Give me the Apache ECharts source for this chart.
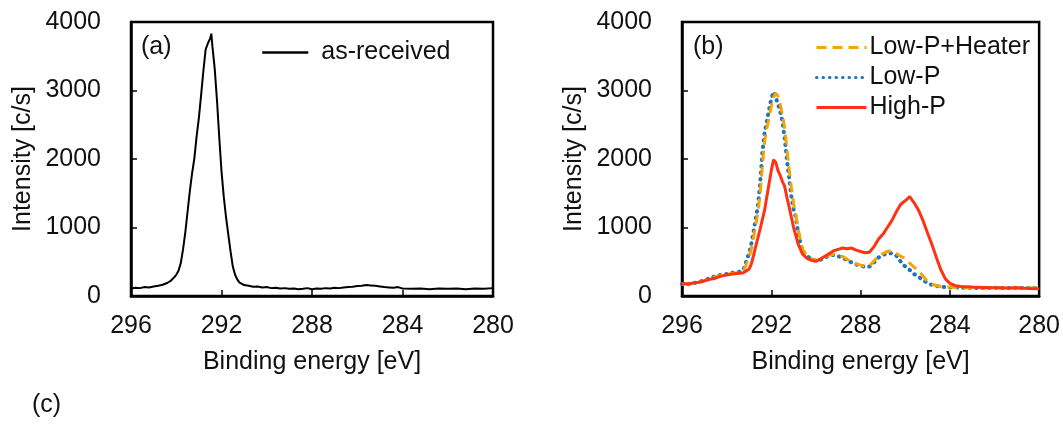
<!DOCTYPE html>
<html>
<head>
<meta charset="utf-8">
<script src="https://cdn.jsdelivr.net/npm/echarts@6/dist/echarts.min.js"></script>
<style>
html,body{margin:0;padding:0;background:#fff;}
#chart{width:1063px;height:424px;}
</style>
</head>
<body>
<div id="chart"></div>
<script>
// Panel (a): as-received
const energyA = [296.0,295.8,295.6,295.4,295.2,295.0,294.8,294.6,294.4,294.25,294.1,294.0,293.9,293.8,293.7,293.6,293.5,293.4,293.3,293.2,293.1,293.0,292.9,292.8,292.7,292.6,292.55,292.5,292.45,292.4,292.3,292.2,292.1,292.0,291.9,291.8,291.7,291.6,291.5,291.4,291.3,291.2,291.0,290.8,290.6,290.4,290.2,290.0,289.8,289.6,289.4,289.2,289.0,288.8,288.6,288.4,288.2,288.0,287.8,287.6,287.4,287.2,287.0,286.8,286.6,286.4,286.2,286.0,285.8,285.6,285.4,285.2,285.0,284.8,284.6,284.4,284.2,284.0,283.6,283.2,282.8,282.4,282.0,281.6,281.2,280.8,280.4,280.0];
const asReceived = [110,120,115,130,125,140,150,165,190,220,270,310,370,480,680,930,1230,1530,1790,2010,2330,2600,2940,3290,3600,3690,3710,3760,3830,3640,3320,2860,2320,1820,1450,1150,900,650,430,310,240,195,160,150,135,140,125,130,115,120,110,115,105,110,100,105,115,100,110,105,115,110,120,115,125,130,135,145,150,160,155,150,140,130,125,120,130,110,105,110,100,110,105,110,100,110,105,115];

// Panel (b)
const energyB = [296.0,295.75,295.5,295.25,295.0,294.75,294.5,294.25,294.0,293.75,293.5,293.25,293.0,292.9,292.8,292.7,292.6,292.5,292.4,292.3,292.2,292.1,292.0,291.9,291.8,291.7,291.6,291.5,291.4,291.3,291.2,291.1,291.0,290.9,290.8,290.6,290.4,290.2,290.0,289.8,289.6,289.4,289.2,289.0,288.8,288.6,288.4,288.2,288.0,287.8,287.6,287.4,287.2,287.0,286.8,286.6,286.4,286.2,286.0,285.8,285.6,285.4,285.2,285.0,284.8,284.6,284.4,284.2,284.0,283.75,283.5,283.0,282.5,282.0,281.5,281.0,280.5,280.0];
const lowPHeater = [180,170,180,200,225,255,280,300,320,330,340,360,560,680,850,1030,1220,1480,1900,2250,2450,2600,2770,2900,2960,2920,2800,2650,2450,2150,1850,1580,1350,1180,980,680,590,545,520,535,570,600,610,600,575,535,500,470,450,430,440,510,580,620,650,665,620,580,550,480,420,370,290,210,175,150,140,130,130,125,120,120,115,120,115,120,115,120];
const lowP = [175,170,185,205,230,260,290,310,320,340,345,380,620,750,930,1120,1310,1650,2100,2380,2550,2720,2880,2980,2900,2800,2700,2550,2300,1990,1720,1450,1260,1150,920,640,580,540,515,530,560,590,600,580,560,520,490,460,440,425,430,490,560,600,620,625,590,500,430,380,320,280,230,190,160,145,135,130,125,125,120,120,115,120,115,120,115,120];
const highP = [185,175,190,200,220,245,260,290,305,320,330,340,390,460,586,720,850,980,1115,1250,1450,1640,1830,1990,1950,1830,1760,1670,1600,1440,1300,1150,1000,880,760,610,550,520,505,540,580,620,660,680,700,690,700,670,650,630,640,720,830,900,1000,1100,1230,1340,1390,1450,1360,1250,1100,920,750,560,380,250,185,150,140,130,125,120,115,120,110,105];

const FONT = "'Liberation Sans', Arial, sans-serif";
const TXT = '#111';
const FS = 25;
const pairs = (xs, ys) => xs.map((x, i) => [x, ys[i]]);

function xAxis(gridIndex) {
  return {
    type: 'value', gridIndex, min: 280, max: 296, interval: 4, inverse: true,
    name: 'Binding energy [eV]', nameLocation: 'middle', nameGap: 54,
    nameTextStyle: {fontSize: FS, color: TXT, fontFamily: FONT},
    axisLine: {show: true, lineStyle: {color: '#000', width: 2.5}},
    axisTick: {show: true, inside: true, length: 6, lineStyle: {color: '#000', width: 1.5}},
    axisLabel: {fontSize: FS, color: TXT, fontFamily: FONT, margin: 18, formatter: v => String(v)},
    splitLine: {show: false}
  };
}
function yAxis(gridIndex) {
  return {
    type: 'value', gridIndex, min: 0, max: 4000, interval: 1000,
    name: 'Intensity [c/s]', nameLocation: 'middle', nameGap: 95, nameRotate: 90,
    nameTextStyle: {fontSize: FS, color: TXT, fontFamily: FONT},
    axisLine: {show: true, lineStyle: {color: '#000', width: 2.5}},
    axisTick: {show: true, inside: true, length: 6, lineStyle: {color: '#000', width: 1.5}},
    axisLabel: {fontSize: FS, color: TXT, fontFamily: FONT, margin: 30, formatter: v => String(v)},
    splitLine: {show: false}
  };
}

const BLUE = '#1f74bd', ORANGE = '#f7a300', RED = '#ff3214';

const chart = echarts.init(document.getElementById('chart'), null, {renderer: 'canvas'});
chart.setOption({
  animation: false,
  backgroundColor: '#fff',
  grid: [
    {left: 131, top: 22, width: 362, height: 274, show: true, borderColor: '#000', borderWidth: 2.5},
    {left: 682, top: 22, width: 363, height: 274, show: true, borderColor: '#000', borderWidth: 2.5}
  ],
  xAxis: [xAxis(0), xAxis(1)],
  yAxis: [yAxis(0), yAxis(1)],
  legend: [
    {
      data: ['as-received'], left: 256, top: 35, itemWidth: 46, itemHeight: 14, itemGap: 14,
      textStyle: {fontSize: FS, color: TXT, fontFamily: FONT, lineHeight: 25, padding: [0, 0, 0, 8]},
      lineStyle: {width: 2.5}, itemStyle: {opacity: 0}
    },
    {
      data: ['Low-P+Heater', 'Low-P', 'High-P'], orient: 'vertical', left: 810, top: 30,
      itemWidth: 50, itemHeight: 14, itemGap: 5,
      textStyle: {fontSize: FS, color: TXT, fontFamily: FONT, lineHeight: 25, padding: [0, 0, 0, -2]},
      lineStyle: {width: 3}, itemStyle: {opacity: 0}
    }
  ],
  graphic: [
    {type: 'text', left: 141, top: 35, style: {text: '(a)', fontSize: FS, fill: TXT, fontFamily: FONT}},
    {type: 'text', left: 693, top: 35, style: {text: '(b)', fontSize: FS, fill: TXT, fontFamily: FONT}},
    {type: 'text', left: 32, top: 393, style: {text: '(c)', fontSize: FS, fill: TXT, fontFamily: FONT}}
  ],
  series: [
    {
      name: 'as-received', type: 'line', xAxisIndex: 0, yAxisIndex: 0, showSymbol: false, symbol: 'none',
      data: pairs(energyA, asReceived), lineStyle: {color: '#000', width: 2}, itemStyle: {color: '#000'}
    },
    {
      name: 'Low-P', type: 'line', xAxisIndex: 1, yAxisIndex: 1, showSymbol: false, symbol: 'none',
      data: pairs(energyB, lowP), itemStyle: {color: BLUE},
      lineStyle: {color: BLUE, width: 4, type: [0.5, 6], cap: 'round'}
    },
    {
      name: 'Low-P+Heater', type: 'line', xAxisIndex: 1, yAxisIndex: 1, showSymbol: false, symbol: 'none',
      data: pairs(energyB, lowPHeater), itemStyle: {color: ORANGE},
      lineStyle: {color: ORANGE, width: 3, type: [10, 6]}
    },
    {
      name: 'High-P', type: 'line', xAxisIndex: 1, yAxisIndex: 1, showSymbol: false, symbol: 'none',
      data: pairs(energyB, highP), itemStyle: {color: RED},
      lineStyle: {color: RED, width: 3}
    }
  ]
});
</script>
</body>
</html>
